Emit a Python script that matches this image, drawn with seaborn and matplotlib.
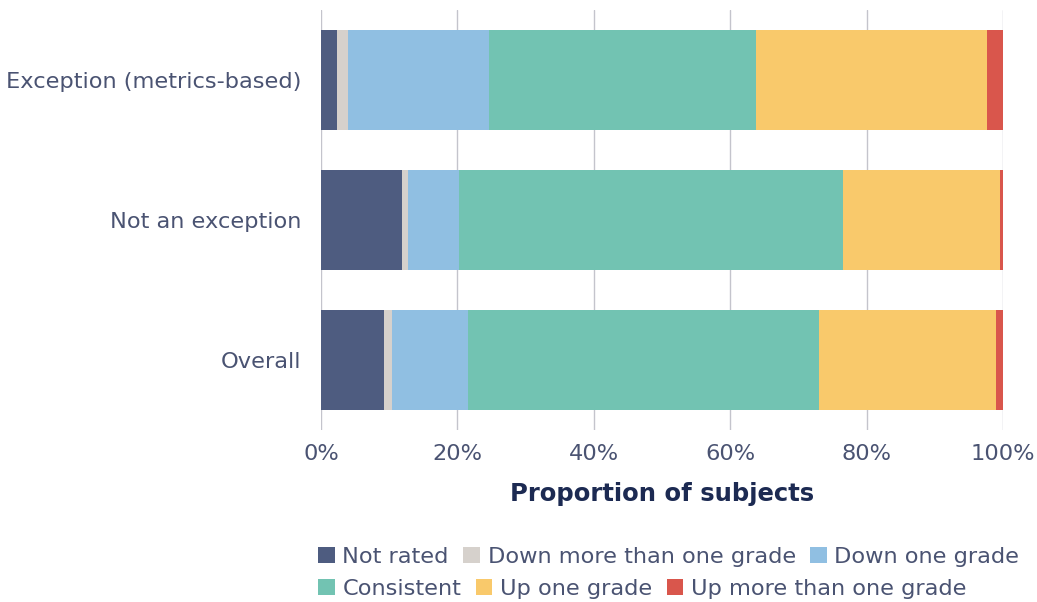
import pandas as pd
import matplotlib.pyplot as plt
import seaborn as sns
from matplotlib.patches import Patch
from matplotlib.ticker import PercentFormatter

# data (percent of subjects)
groups = ['Exception (metrics-based)', 'Not an exception', 'Overall']
categories = ['Not rated', 'Down more than one grade', 'Down one grade',
              'Consistent', 'Up one grade', 'Up more than one grade']
not_rated = [2.4, 11.8, 9.3]
down_more = [1.5, 0.9, 1.1]
down_one = [20.7, 7.6, 11.2]
consistent = [39.2, 56.3, 51.4]
up_one = [33.8, 22.9, 26.0]
up_more = [2.4, 0.5, 1.0]
colors = ['#4e5c80', '#d6d1cc', '#90bfe2', '#72c3b2', '#f9c96b', '#d9564c']

text_col = '#4a5372'
label_col = '#1c2a52'

df = pd.DataFrame({'group': groups, 'Not rated': not_rated,
                   'Down more than one grade': down_more, 'Down one grade': down_one,
                   'Consistent': consistent, 'Up one grade': up_one,
                   'Up more than one grade': up_more})
cum = df[categories].cumsum(axis=1)
cum['group'] = df['group']

sns.set_style('white')
plt.rcParams['font.family'] = ['DejaVu Sans']

fig = plt.figure(figsize=(10.37, 6.02), dpi=100)
ax = fig.add_axes([0.3096, 0.2857, 0.6576, 0.6977])

# stacked bars: draw cumulative totals from the outermost segment inwards
for cat, col in reversed(list(zip(categories, colors))):
    sns.barplot(data=cum, x=cat, y='group', color=col, orient='h',
                width=0.714, saturation=1, linewidth=0, ax=ax, zorder=3)

ax.set_xlim(0, 100)
ax.set_ylim(2.5, -0.5)
ax.xaxis.set_major_formatter(PercentFormatter(decimals=0))
ax.set_xticks([0, 20, 40, 60, 80, 100])
ax.grid(axis='x', color='#c4c4cc', linewidth=1, zorder=0)
ax.grid(axis='y', visible=False)
for s in ax.spines.values():
    s.set_visible(False)
ax.tick_params(axis='both', length=0, labelsize=16.2, colors=text_col)
ax.tick_params(axis='x', pad=10)
ax.tick_params(axis='y', pad=14)
ax.set_ylabel('')
ax.set_xlabel('Proportion of subjects', fontsize=17.5, fontweight='bold',
              color=label_col, labelpad=13)

handles = [Patch(facecolor=c, edgecolor='none', label=l) for l, c in zip(categories, colors)]
leg_kw = dict(frameon=False, fontsize=16.2, handlelength=0.72, handleheight=0.72,
              handletextpad=0.35, columnspacing=0.65, borderpad=0, borderaxespad=0,
              ncol=3, labelcolor=text_col, loc='center left')
fig.legend(handles=handles[:3], bbox_to_anchor=(0.307, 1 - 557 / 602), **leg_kw)
fig.legend(handles=handles[3:], bbox_to_anchor=(0.307, 1 - 589 / 602), **leg_kw)

fig.savefig('out.png', dpi=100)
